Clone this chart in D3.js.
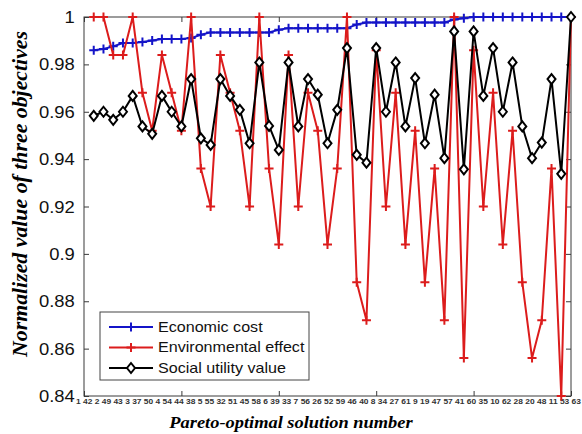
<!DOCTYPE html>
<html>
<head>
<meta charset="utf-8">
<script src="https://cdn.jsdelivr.net/npm/d3@7"></script>
<style>
  html, body { margin: 0; padding: 0; background: #fff; }
  svg { display: block; }
</style>
</head>
<body>
<svg id="chart" width="582" height="434"></svg>
<script>
// Solution labels printed under the axis, in plotted order
const solutionLabels = [1, 42, 2, 49, 43, 3, 37, 50, 4, 54, 44, 38, 5, 55, 32, 51,
  45, 58, 6, 39, 33, 7, 56, 26, 52, 59, 46, 40, 8, 34, 27, 61, 9, 19, 47, 57, 41,
  60, 35, 10, 62, 28, 20, 48, 11, 53, 63];

// Normalized objective values for each Pareto-optimal solution (1..50)
const economicCost = [0.986, 0.9865, 0.9876, 0.989, 0.989, 0.9894, 0.9901, 0.9907,
  0.9907, 0.9907, 0.9911, 0.9925, 0.9935, 0.9935, 0.9935, 0.9935, 0.9935, 0.9935,
  0.9935, 0.9946, 0.9953, 0.9953, 0.9953, 0.9953, 0.9953, 0.9953, 0.9953, 0.9968,
  0.9977, 0.9977, 0.9977, 0.9977, 0.9977, 0.9977, 0.9977, 0.9977, 0.9977, 0.9989,
  0.9995, 1, 1, 1, 1, 1, 1, 1, 1, 1, 1, 1];

const environmentalEffect = [1, 1, 0.984, 0.984, 1, 0.968, 0.952, 0.984, 0.968,
  0.952, 1, 0.936, 0.92, 0.984, 0.968, 0.952, 0.92, 1, 0.936, 0.904, 0.984, 0.92,
  0.968, 0.952, 0.904, 0.936, 1, 0.888, 0.872, 0.986, 0.92, 0.968, 0.904, 0.952,
  0.888, 0.936, 0.872, 1, 0.856, 0.986, 0.92, 0.968, 0.904, 0.952, 0.888, 0.856,
  0.872, 0.936, 0.84, 1];

const socialUtility = [0.9583, 0.96, 0.9566, 0.96, 0.9667, 0.9538, 0.9507, 0.9667,
  0.96, 0.9538, 0.9738, 0.9488, 0.946, 0.9738, 0.9667, 0.9608, 0.9467, 0.9808,
  0.954, 0.9439, 0.9808, 0.9538, 0.9738, 0.9672, 0.9467, 0.9608, 0.9869, 0.9418,
  0.9385, 0.9869, 0.96, 0.9808, 0.9538, 0.9742, 0.9467, 0.9672, 0.9404, 0.9939,
  0.9357, 0.9939, 0.9667, 0.9869, 0.96, 0.9808, 0.9538, 0.9404, 0.947, 0.9738,
  0.9338, 1];

const yTickValues = [0.84, 0.86, 0.88, 0.9, 0.92, 0.94, 0.96, 0.98, 1];
const xTickValues = [0, 10, 20, 30, 40, 50];

const seriesNames = ["Economic cost", "Environmental effect", "Social utility value"];
const seriesColors = ["#1414c8", "#dc1c1c", "#000000"];
const seriesMarkers = ["plus", "plus", "diamond"];
const seriesData = [economicCost, environmentalEffect, socialUtility];

const svg = d3.select("#chart");
const plotLeft = 84, plotRight = 571, plotTop = 17, plotBottom = 396;
const stretch = 1.15; // horizontal glyph widening

const x = d3.scaleLinear().domain([0, 50]).range([plotLeft, plotRight]);
const y = d3.scaleLinear().domain([0.84, 1]).range([plotBottom, plotTop]);

// frame
svg.append("rect")
  .attr("x", plotLeft).attr("y", plotTop)
  .attr("width", plotRight - plotLeft).attr("height", plotBottom - plotTop)
  .attr("fill", "#fff").attr("stroke", "#3a3a3a").attr("stroke-width", 1);

// y axis (left) with inward ticks
const yAxis = svg.append("g")
  .attr("transform", `translate(${plotLeft},0)`)
  .call(d3.axisLeft(y).tickValues(yTickValues).tickFormat(d3.format("~g"))
    .tickSizeInner(-5).tickSizeOuter(0).tickPadding(0));
yAxis.select(".domain").remove();
yAxis.selectAll("line").attr("stroke", "#3a3a3a");
yAxis.selectAll("text")
  .attr("x", -8)
  .attr("dy", "0.35em")
  .attr("transform", `scale(${stretch},1)`)
  .attr("font-family", "'Liberation Sans', Arial, sans-serif")
  .attr("font-size", 16)
  .attr("fill", "#111");

// right-side ticks
const yAxisR = svg.append("g")
  .attr("transform", `translate(${plotRight},0)`)
  .call(d3.axisRight(y).tickValues(yTickValues).tickFormat("")
    .tickSizeInner(-5).tickSizeOuter(0));
yAxisR.select(".domain").remove();
yAxisR.selectAll("line").attr("stroke", "#3a3a3a");

// bottom and top ticks
const xAxisB = svg.append("g")
  .attr("transform", `translate(0,${plotBottom})`)
  .call(d3.axisBottom(x).tickValues(xTickValues).tickFormat("")
    .tickSizeInner(-5).tickSizeOuter(0));
xAxisB.select(".domain").remove();
xAxisB.selectAll("line").attr("stroke", "#3a3a3a");
const xAxisT = svg.append("g")
  .attr("transform", `translate(0,${plotTop})`)
  .call(d3.axisTop(x).tickValues(xTickValues).tickFormat("")
    .tickSizeInner(-5).tickSizeOuter(0));
xAxisT.select(".domain").remove();
xAxisT.selectAll("line").attr("stroke", "#3a3a3a");

// solution numbers under the axis
svg.append("text")
  .attr("x", 76).attr("y", 404)
  .attr("textLength", 505)
  .attr("lengthAdjust", "spacingAndGlyphs")
  .attr("font-family", "'Liberation Sans', Arial, sans-serif")
  .attr("font-size", 7.5)
  .attr("font-weight", "bold")
  .attr("fill", "#333")
  .text(solutionLabels.join(" "));

// axis titles
svg.append("text")
  .attr("x", 291).attr("y", 428)
  .attr("text-anchor", "middle")
  .attr("font-family", "'Liberation Serif', 'Times New Roman', serif")
  .attr("font-style", "italic").attr("font-weight", "bold")
  .attr("font-size", 16)
  .attr("transform", `translate(291,0) scale(${stretch},1) translate(-291,0)`)
  .attr("fill", "#000")
  .text("Pareto-optimal solution number");

svg.append("text")
  .attr("transform", "translate(27,194) rotate(-90)")
  .attr("text-anchor", "middle")
  .attr("textLength", 326)
  .attr("lengthAdjust", "spacingAndGlyphs")
  .attr("font-family", "'Liberation Serif', 'Times New Roman', serif")
  .attr("font-style", "italic").attr("font-weight", "bold")
  .attr("font-size", 20)
  .attr("fill", "#000")
  .text("Normalized value of three objectives");

// marker drawing
function drawMarker(g, kind, color, cx, cy) {
  if (kind === "plus") {
    g.append("path")
      .attr("d", `M${cx - 4.5},${cy}H${cx + 4.5}M${cx},${cy - 4.5}V${cy + 4.5}`)
      .attr("stroke", color).attr("stroke-width", 2).attr("fill", "none");
  } else {
    g.append("path")
      .attr("d", `M${cx},${cy - 5}L${cx + 4},${cy}L${cx},${cy + 5}L${cx - 4},${cy}Z`)
      .attr("stroke", color).attr("stroke-width", 2).attr("fill", "#fff");
  }
}

const line = d3.line().x((d, i) => x(i + 1)).y(d => y(d));
const plot = svg.append("g");
seriesData.forEach((vals, s) => {
  const g = plot.append("g");
  g.append("path")
    .datum(vals)
    .attr("d", line)
    .attr("fill", "none")
    .attr("stroke", seriesColors[s])
    .attr("stroke-width", 2)
    .attr("stroke-linejoin", "round");
  vals.forEach((v, i) => drawMarker(g, seriesMarkers[s], seriesColors[s], x(i + 1), y(v)));
});

// legend
const legend = svg.append("g");
legend.append("rect")
  .attr("x", 100).attr("y", 312).attr("width", 209).attr("height", 68)
  .attr("fill", "#fff").attr("stroke", "#444").attr("stroke-width", 1);
seriesNames.forEach((name, s) => {
  const cy = 327 + s * 20.5;
  legend.append("line")
    .attr("x1", 109).attr("x2", 153).attr("y1", cy).attr("y2", cy)
    .attr("stroke", seriesColors[s]).attr("stroke-width", 2);
  drawMarker(legend, seriesMarkers[s], seriesColors[s], 131, cy);
  legend.append("text")
    .attr("x", 158 / stretch).attr("y", cy + 5)
    .attr("transform", `scale(${stretch},1)`)
    .attr("font-family", "'Liberation Sans', Arial, sans-serif")
    .attr("font-size", 14)
    .attr("fill", "#111")
    .text(name);
});
</script>
</body>
</html>
